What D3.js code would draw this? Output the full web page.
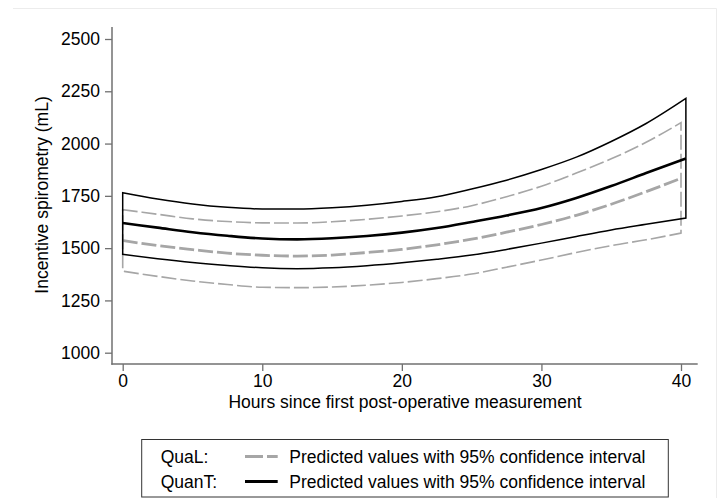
<!DOCTYPE html>
<html>
<head>
<meta charset="utf-8">
<script src="https://cdn.jsdelivr.net/npm/d3@7"></script>
<style>
  body { margin: 0; background: #fff; }
  svg { display: block; font-family: "Liberation Sans", Arial, sans-serif; }
</style>
</head>
<body>
<svg id="chart" width="718" height="498"></svg>
<script>
/* data */
const qualHours = [0, 2.5, 5, 7.5, 10, 12.5, 15, 17.5, 20, 22.5, 25, 27.5, 30, 32.5, 35, 37.5, 40];
const qualFit   = [1536, 1512, 1493, 1476, 1466, 1462, 1467, 1479, 1494, 1516, 1543, 1576, 1613, 1657, 1710, 1770, 1834];
const qualLo    = [1390, 1365, 1343, 1326, 1313, 1311, 1314, 1323, 1336, 1354, 1376, 1409, 1443, 1479, 1512, 1540, 1572];
const qualHi    = [1684, 1662, 1640, 1627, 1621, 1620, 1626, 1638, 1654, 1674, 1703, 1746, 1796, 1859, 1927, 2006, 2100];

const quantHours = [0, 2.5, 5, 7.5, 10, 12.5, 15, 17.5, 20, 22.5, 25, 27.5, 30, 32.5, 35, 37.5, 40.35];
const quantFit   = [1620, 1598, 1576, 1559, 1546, 1542, 1547, 1558, 1574, 1596, 1625, 1656, 1692, 1740, 1797, 1859, 1929];
const quantLo    = [1470, 1449, 1431, 1417, 1406, 1402, 1406, 1416, 1430, 1447, 1467, 1494, 1524, 1556, 1587, 1614, 1644];
const quantHi    = [1765, 1735, 1711, 1695, 1687, 1687, 1693, 1705, 1723, 1746, 1783, 1825, 1876, 1935, 2010, 2096, 2216];

const xTicks = [0, 10, 20, 30, 40];
const yTicks = [1000, 1250, 1500, 1750, 2000, 2250, 2500];

const legendItems = [
    { name: "QuaL:", label: "Predicted values with 95% confidence interval", color: "#a6a6a6", dash: "15,4" },
    { name: "QuanT:", label: "Predicted values with 95% confidence interval", color: "#000", dash: null }
];

const fontSize = "17.5px";
let svg = d3.select("#chart");

/* faint outer frame */
svg.append("path")
    .attr("d", "M13,8.5H716.5V498")
    .attr("fill", "none")
    .attr("stroke", "#ececec")
    .attr("stroke-width", 1);

/* scales */
let xScale = d3.scaleLinear().domain([0, 40]).range([122.7, 681]);
let yScale = d3.scaleLinear().domain([1000, 2500]).range([352.7, 39]);

const axisColor = "#707070";

/* Y axis */
let yAxis = svg.append("g")
    .attr("transform", "translate(112,0)")
    .call(d3.axisLeft(yScale).tickValues(yTicks).tickFormat(d3.format("d")).tickSize(7).tickPadding(5));
yAxis.select(".domain").remove();
yAxis.selectAll(".tick line").attr("stroke", axisColor).attr("stroke-width", 1.3);
yAxis.selectAll(".tick text")
    .attr("fill", "#000")
    .style("font-size", fontSize)
    .style("font-family", "'Liberation Sans', Arial, sans-serif");
svg.append("line")
    .attr("x1", 112).attr("x2", 112)
    .attr("y1", 27).attr("y2", 364.7)
    .attr("stroke", axisColor).attr("stroke-width", 1.5);

/* X axis */
let xAxis = svg.append("g")
    .attr("transform", "translate(0,364)")
    .call(d3.axisBottom(xScale).tickValues(xTicks).tickFormat(d3.format("d")).tickSize(7).tickPadding(4));
xAxis.select(".domain").remove();
xAxis.selectAll(".tick line").attr("stroke", axisColor).attr("stroke-width", 1.3);
xAxis.selectAll(".tick text")
    .attr("fill", "#000")
    .style("font-size", fontSize)
    .style("font-family", "'Liberation Sans', Arial, sans-serif");
svg.append("line")
    .attr("x1", 111.3).attr("x2", 697.7)
    .attr("y1", 364).attr("y2", 364)
    .attr("stroke", axisColor).attr("stroke-width", 1.5);

/* axis titles */
svg.append("text")
    .attr("x", 405).attr("y", 407.5)
    .attr("text-anchor", "middle")
    .style("font-size", fontSize)
    .text("Hours since first post-operative measurement");

svg.append("text")
    .attr("transform", "translate(47.5,195) rotate(-90)")
    .attr("text-anchor", "middle")
    .style("font-size", fontSize)
    .text("Incentive spirometry (mL)");

/* series */
function drawSeries(hours, lo, fit, hi, color, dash, ciWidth, fitWidth) {
    let rows = hours.map((h, i) => ({ h: h, lo: lo[i], fit: fit[i], hi: hi[i] }));

    let band = d3.area()
        .x(d => xScale(d.h))
        .y0(d => yScale(d.lo))
        .y1(d => yScale(d.hi))
        .curve(d3.curveMonotoneX);

    let line = d3.line()
        .x(d => xScale(d.h))
        .y(d => yScale(d.fit))
        .curve(d3.curveMonotoneX);

    let g = svg.append("g");
    g.append("path")
        .datum(rows)
        .attr("d", band)
        .attr("fill", "none")
        .attr("stroke", color)
        .attr("stroke-width", ciWidth)
        .attr("stroke-linejoin", "miter")
        .attr("stroke-dasharray", dash);
    g.append("path")
        .datum(rows)
        .attr("d", line)
        .attr("fill", "none")
        .attr("stroke", color)
        .attr("stroke-width", fitWidth)
        .attr("stroke-dasharray", dash);
}

drawSeries(qualHours, qualLo, qualFit, qualHi, "#a6a6a6", "15,4", 1.6, 2.8);
drawSeries(quantHours, quantLo, quantFit, quantHi, "#000", null, 1.5, 2.6);

/* legend */
let legend = svg.append("g");
legend.append("rect")
    .attr("x", 141.7).attr("y", 439.5)
    .attr("width", 526.6).attr("height", 57.5)
    .attr("fill", "#fff")
    .attr("stroke", "#333")
    .attr("stroke-width", 1);

legend.selectAll(".item")
    .data(legendItems)
    .join("g")
    .attr("class", "item")
    .attr("transform", (d, i) => "translate(0," + (462.5 + i * 25) + ")")
    .each(function (d) {
        let row = d3.select(this);
        row.append("text")
            .attr("x", 160.7).attr("y", 0)
            .style("font-size", fontSize)
            .text(d.name);
        row.append("line")
            .attr("x1", 245).attr("x2", 277.7)
            .attr("y1", -6).attr("y2", -6)
            .attr("stroke", d.color)
            .attr("stroke-width", 2.8)
            .attr("stroke-dasharray", d.dash ? "18,4" : null);
        row.append("text")
            .attr("x", 289.3).attr("y", 0)
            .style("font-size", fontSize)
            .text(d.label);
    });
</script>
</body>
</html>
